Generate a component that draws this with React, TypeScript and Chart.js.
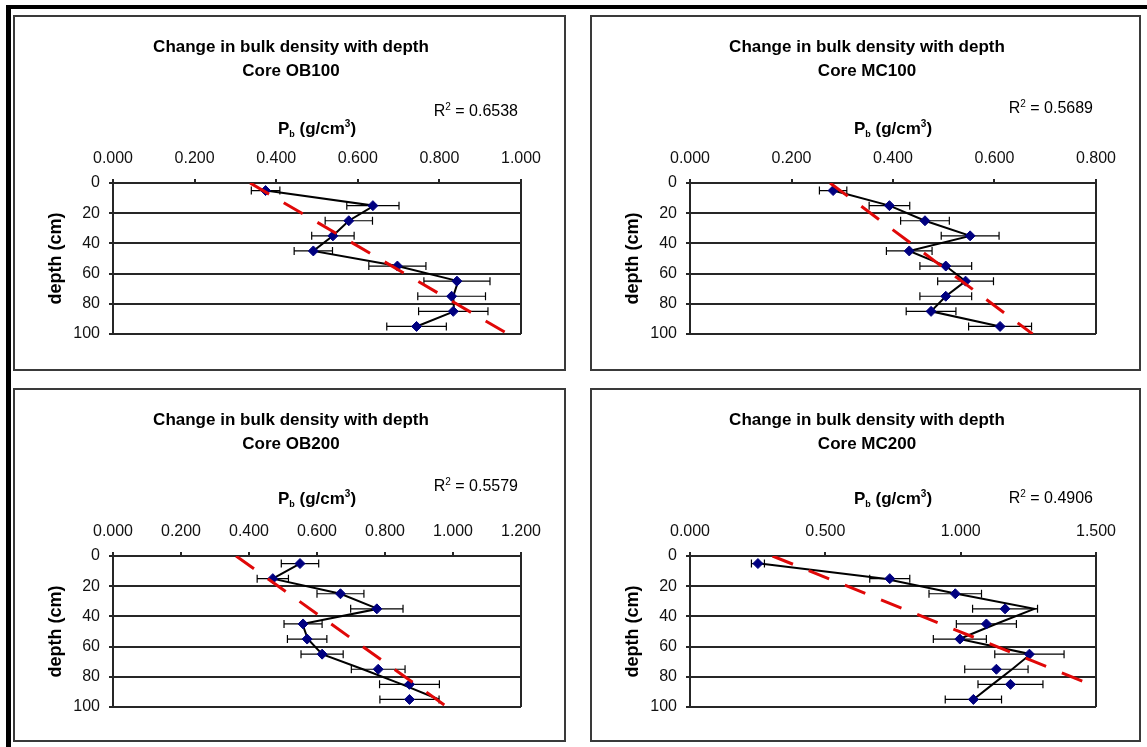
import React, { useEffect, useRef } from 'react';
import { Chart, registerables } from 'chart.js';

Chart.register(...registerables);

// ---------- data ----------
const DEPTHS = [5, 15, 25, 35, 45, 55, 65, 75, 85, 95];
const TITLE = 'Change in bulk density with depth';

const OB100_DENSITY = [0.374, 0.637, 0.578, 0.539, 0.491, 0.697, 0.843, 0.830, 0.834, 0.744];
const OB100_ERROR = [0.035, 0.064, 0.058, 0.052, 0.047, 0.070, 0.081, 0.083, 0.085, 0.073];
const OB100_PROFILE = [0.374, 0.640, 0.578, 0.539, 0.491, 0.697, 0.846, 0.834, 0.836, 0.744];
const OB100_TREND = [0.336, 0.968];
const OB100_TREND_DEPTH = [0, 100];
const OB100_R2 = '0.6538';

const MC100_DENSITY = [0.282, 0.393, 0.463, 0.552, 0.432, 0.504, 0.543, 0.504, 0.475, 0.611];
const MC100_ERROR = [0.027, 0.040, 0.048, 0.057, 0.045, 0.051, 0.055, 0.051, 0.049, 0.062];
const MC100_PROFILE = [0.282, 0.393, 0.463, 0.552, 0.432, 0.504, 0.543, 0.504, 0.475, 0.611];
const MC100_TREND = [0.276, 0.675];
const MC100_TREND_DEPTH = [0, 100];
const MC100_R2 = '0.5689';

const OB200_DENSITY = [0.550, 0.470, 0.669, 0.776, 0.559, 0.571, 0.615, 0.780, 0.872, 0.872];
const OB200_ERROR = [0.055, 0.046, 0.069, 0.077, 0.056, 0.058, 0.062, 0.079, 0.088, 0.087];
const OB200_PROFILE = [0.550, 0.470, 0.669, 0.779, 0.557, 0.573, 0.615, 0.735, 0.850, 0.959];
const OB200_TREND = [0.362, 0.983];
const OB200_TREND_DEPTH = [0, 100];
const OB200_R2 = '0.5579';

const MC200_DENSITY = [0.251, 0.738, 0.980, 1.164, 1.095, 0.997, 1.254, 1.132, 1.184, 1.047];
const MC200_ERROR = [0.024, 0.074, 0.097, 0.120, 0.111, 0.098, 0.128, 0.117, 0.120, 0.104];
const MC200_PROFILE = [0.258, 0.720, 0.985, 1.272, 1.130, 0.995, 1.258, 1.190, 1.118, 1.047];
const MC200_TREND = [0.305, 1.5];
const MC200_TREND_DEPTH = [0, 86.5];
const MC200_R2 = '0.4906';

// ---------- styling / layout ----------
const FONT = '"Liberation Sans", Arial, Helvetica, sans-serif';
const AXIS = '#262626';

type PanelCfg = {
  core: string;
  density: number[];
  error: number[];
  profile: number[];
  trend: number[];
  trendDepth: number[];
  r2: string;
  xMax: number;
  xStep: number;
  left: number;
  top: number;
  width: number;
  height: number;
  r2Dy: number;
  pbDy: number;
};

const PANELS: PanelCfg[] = [
  { core: 'Core OB100', density: OB100_DENSITY, error: OB100_ERROR, profile: OB100_PROFILE, trend: OB100_TREND, trendDepth: OB100_TREND_DEPTH, r2: OB100_R2, xMax: 1.0, xStep: 0.2, left: 13, top: 15, width: 553, height: 356, r2Dy: 73, pbDy: 55 },
  { core: 'Core MC100', density: MC100_DENSITY, error: MC100_ERROR, profile: MC100_PROFILE, trend: MC100_TREND, trendDepth: MC100_TREND_DEPTH, r2: MC100_R2, xMax: 0.8, xStep: 0.2, left: 590, top: 15, width: 551, height: 356, r2Dy: 76, pbDy: 55 },
  { core: 'Core OB200', density: OB200_DENSITY, error: OB200_ERROR, profile: OB200_PROFILE, trend: OB200_TREND, trendDepth: OB200_TREND_DEPTH, r2: OB200_R2, xMax: 1.2, xStep: 0.2, left: 13, top: 388, width: 553, height: 354, r2Dy: 71, pbDy: 58 },
  { core: 'Core MC200', density: MC200_DENSITY, error: MC200_ERROR, profile: MC200_PROFILE, trend: MC200_TREND, trendDepth: MC200_TREND_DEPTH, r2: MC200_R2, xMax: 1.5, xStep: 0.5, left: 590, top: 388, width: 551, height: 354, r2Dy: 59, pbDy: 58 },
];

type Part = { text: string; size: number; bold?: boolean; dy?: number };

function drawRich(ctx: CanvasRenderingContext2D, parts: Part[], x: number, baseline: number, align: 'left' | 'center' | 'right') {
  const widths = parts.map((p) => {
    ctx.font = `${p.bold ? 'bold ' : ''}${p.size}px ${FONT}`;
    return ctx.measureText(p.text).width;
  });
  const total = widths.reduce((a, b) => a + b, 0);
  let cx = align === 'left' ? x : align === 'center' ? x - total / 2 : x - total;
  ctx.textAlign = 'left';
  ctx.textBaseline = 'alphabetic';
  parts.forEach((p, i) => {
    ctx.font = `${p.bold ? 'bold ' : ''}${p.size}px ${FONT}`;
    ctx.fillText(p.text, cx, baseline + (p.dy || 0));
    cx += widths[i];
  });
}

const decorPlugin = {
  id: 'decor',
  beforeDatasetsDraw(chart: any, _args: any, opts: any) {
    const { ctx, scales } = chart;
    const xs = scales.x;
    const ys = scales.y;
    ctx.save();
    ctx.strokeStyle = '#000';
    ctx.lineWidth = 1.2;
    (opts.density as number[]).forEach((v: number, i: number) => {
      const e = opts.error[i];
      const y = ys.getPixelForValue(DEPTHS[i]);
      const x1 = xs.getPixelForValue(v - e);
      const x2 = xs.getPixelForValue(v + e);
      ctx.beginPath();
      ctx.moveTo(x1, y);
      ctx.lineTo(x2, y);
      ctx.moveTo(x1, y - 4);
      ctx.lineTo(x1, y + 4);
      ctx.moveTo(x2, y - 4);
      ctx.lineTo(x2, y + 4);
      ctx.stroke();
    });
    ctx.restore();
  },
  afterDraw(chart: any, _args: any, opts: any) {
    const { ctx, chartArea: ca } = chart;
    ctx.save();
    ctx.fillStyle = '#000';
    // R² label
    drawRich(
      ctx,
      [
        { text: 'R', size: 16 },
        { text: '2', size: 10, dy: -6 },
        { text: ' = ' + opts.r2, size: 16 },
      ],
      ca.right - 3,
      ca.top - opts.r2Dy + 6,
      'right'
    );
    // x-axis title
    drawRich(
      ctx,
      [
        { text: 'P', size: 17, bold: true },
        { text: 'b', size: 9, bold: true, dy: 3 },
        { text: ' (g/cm', size: 17, bold: true },
        { text: '3', size: 10, bold: true, dy: -7 },
        { text: ')', size: 17, bold: true },
      ],
      (ca.left + ca.right) / 2,
      ca.top - opts.pbDy + 6,
      'center'
    );
    // y-axis title
    ctx.translate(ca.left - 57, (ca.top + ca.bottom) / 2);
    ctx.rotate(-Math.PI / 2);
    ctx.font = `bold 18px ${FONT}`;
    ctx.textAlign = 'center';
    ctx.textBaseline = 'middle';
    ctx.fillText('depth (cm)', 0, 0);
    ctx.restore();
  },
};

function Panel({ cfg }: { cfg: PanelCfg }) {
  const ref = useRef<HTMLCanvasElement | null>(null);
  useEffect(() => {
    if (!ref.current) return;
    const plotRight = cfg.width - 45;
    const chart = new Chart(ref.current, {
      type: 'scatter',
      data: {
        datasets: [
          {
            label: 'trend',
            data: cfg.trend.map((v, i) => ({ x: v, y: cfg.trendDepth[i] })),
            showLine: true,
            borderColor: '#e00808',
            borderWidth: 3,
            borderDash: [22, 17],
            pointRadius: 0,
            order: 0,
          },
          {
            label: 'density',
            data: cfg.density.map((v, i) => ({ x: v, y: DEPTHS[i] })),
            showLine: false,
            pointStyle: 'rectRot',
            pointRadius: 5,
            backgroundColor: '#000080',
            borderColor: '#000080',
            borderWidth: 1,
            order: 1,
          },
          {
            label: 'profile',
            data: cfg.profile.map((v, i) => ({ x: v, y: DEPTHS[i] })),
            showLine: true,
            borderColor: '#000',
            borderWidth: 2,
            pointRadius: 0,
            order: 2,
          },
        ],
      },
      options: {
        responsive: false,
        animation: false,
        devicePixelRatio: 1,
        events: [],
        layout: {
          padding: { left: 48, right: cfg.width - plotRight, top: 0, bottom: cfg.height - 319 },
        },
        plugins: {
          legend: { display: false },
          tooltip: { enabled: false },
          title: {
            display: true,
            text: [TITLE, cfg.core],
            color: '#000',
            font: { family: FONT, size: 17, weight: 'bold', lineHeight: 24 / 17 },
            padding: { top: 20, bottom: 0 },
          },
          decor: {
            density: cfg.density,
            error: cfg.error,
            r2: cfg.r2,
            r2Dy: cfg.r2Dy,
            pbDy: cfg.pbDy,
          },
        } as any,
        scales: {
          x: {
            type: 'linear',
            position: 'top',
            min: 0,
            max: cfg.xMax,
            afterFit: (s: any) => {
              s.height = 100;
            },
            ticks: {
              stepSize: cfg.xStep,
              autoSkip: false,
              maxRotation: 0,
              padding: 11,
              color: '#111',
              font: { family: FONT, size: 16 },
              callback: (v: any) => Number(v).toFixed(3),
            },
            grid: {
              drawOnChartArea: true,
              color: (c: any) => (c.tick && Math.abs(c.tick.value - cfg.xMax) < 1e-9 ? AXIS : 'rgba(0,0,0,0)'),
              tickColor: AXIS,
              lineWidth: 2,
              tickLength: 4,
            },
            border: { display: true, color: AXIS, width: 2 },
          },
          y: {
            type: 'linear',
            reverse: true,
            min: 0,
            max: 100,
            afterFit: (s: any) => {
              s.width = 52;
            },
            ticks: {
              stepSize: 20,
              padding: 9,
              color: '#111',
              font: { family: FONT, size: 16 },
            },
            grid: { color: AXIS, lineWidth: 2, tickLength: 4 },
            border: { display: true, color: AXIS, width: 2 },
          },
        },
      },
      plugins: [decorPlugin],
    } as any);
    return () => chart.destroy();
  }, [cfg]);

  return (
    <>
      <div
        style={{
          position: 'absolute',
          left: cfg.left,
          top: cfg.top,
          width: cfg.width,
          height: cfg.height,
          border: '2px solid #3a3a3a',
          boxSizing: 'border-box',
          background: '#fff',
        }}
      />
      <canvas
        ref={ref}
        width={cfg.width}
        height={cfg.height}
        style={{ position: 'absolute', left: cfg.left, top: cfg.top, width: cfg.width, height: cfg.height }}
      />
    </>
  );
}

export default function App() {
  return (
    <div
      style={{
        position: 'absolute',
        left: 0,
        top: 0,
        width: 1147,
        height: 747,
        background: '#fff',
        overflow: 'hidden',
      }}
    >
      <div
        style={{
          position: 'absolute',
          left: 6,
          top: 5,
          width: 1160,
          height: 760,
          borderTop: '4px solid #000',
          borderLeft: '5px solid #000',
          boxSizing: 'border-box',
        }}
      />
      {PANELS.map((p) => (
        <Panel key={p.core} cfg={p} />
      ))}
    </div>
  );
}
